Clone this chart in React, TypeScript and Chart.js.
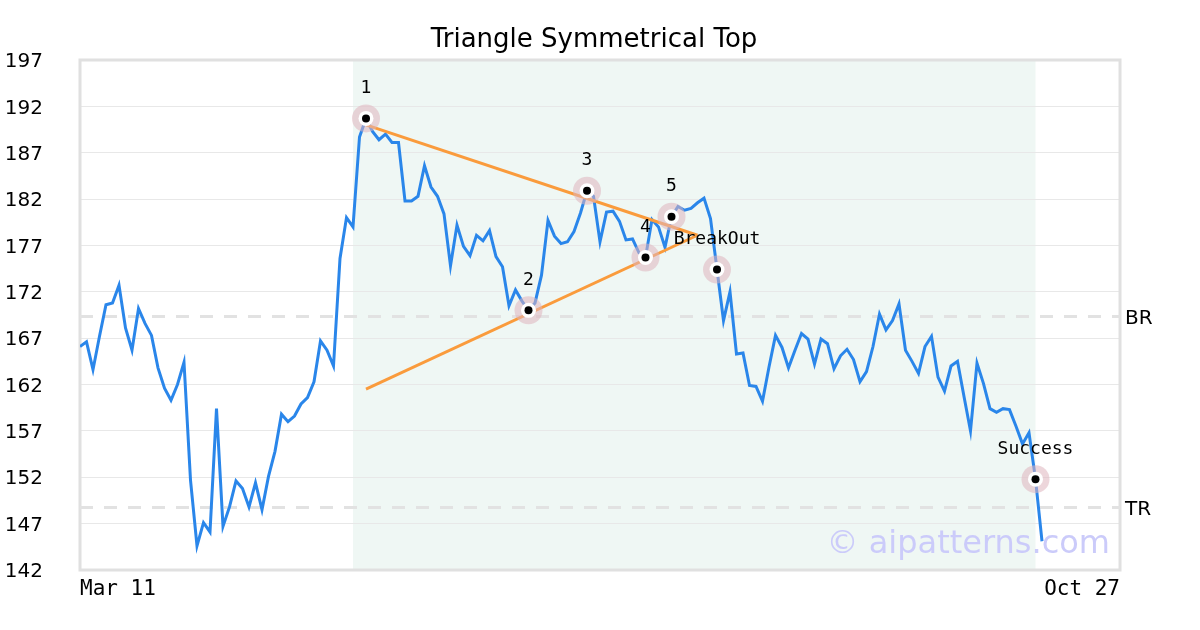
import React, { useEffect, useRef } from 'react';
import { Chart, registerables } from 'chart.js';

Chart.register(...registerables);

const chartTitle = 'Triangle Symmetrical Top';
const xTickLabels = ['Mar 11', 'Oct 27'];
const xRange = [0, 160];
const yTicks = [142, 147, 152, 157, 162, 167, 172, 177, 182, 187, 192, 197];

const price = [
  166.1, 166.6, 163.6, 167.2, 170.6, 170.8, 172.7, 168.1, 165.7, 170.2,
  168.6, 167.3, 163.8, 161.6, 160.3, 162.0, 164.4, 151.7, 144.6, 147.1,
  146.1, 159.4, 146.7, 148.8, 151.6, 150.8, 148.8, 151.4, 148.5, 152.1,
  154.8, 158.8, 158.0, 158.6, 159.9, 160.6, 162.3, 166.7, 165.7, 164.0,
  175.6, 180.0, 179.0, 188.7, 190.7, 189.3, 188.4, 189.0, 188.1, 188.1,
  181.8, 181.8, 182.3, 185.6, 183.3, 182.3, 180.4, 174.8, 179.2, 176.9,
  175.9, 178.1, 177.5, 178.6, 175.8, 174.7, 170.5, 172.2, 171.0, 170.0,
  170.8, 173.8, 179.7, 178.0, 177.2, 177.4, 178.5, 180.5, 182.9, 182.3,
  177.4, 180.6, 180.7, 179.6, 177.6, 177.7, 176.2, 175.7, 179.8, 179.0,
  176.8, 180.1, 181.2, 180.8, 181.0, 181.6, 182.1, 179.9, 174.4, 168.9,
  172.0, 165.3, 165.4, 161.9, 161.8, 160.2, 163.9, 167.3, 166.0, 163.8,
  165.7, 167.5, 166.9, 164.2, 166.9, 166.4, 163.7, 165.1, 165.8, 164.7,
  162.3, 163.4, 166.1, 169.6, 167.9, 168.9, 170.7, 165.7, 164.5, 163.2,
  166.1, 167.2, 162.8, 161.3, 164.0, 164.5, 160.7, 157.0, 164.3, 162.1,
  159.4, 159.0, 159.4, 159.3, 157.5, 155.6, 156.8, 151.8, 145.1,
];

const patternLabels = ['1', '2', '3', '4', '5', 'BreakOut', 'Success'];
const patternIndex = [44, 69, 78, 87, 91, 98, 147];

const upperX = [44, 95];
const upperY = [190.0, 178.1];
const lowerX = [44, 95];
const lowerY = [161.5, 178.1];

const refLevels = [169.34, 148.74];
const refLabels = ['BR', 'TR'];

const shadeRange = [42, 147];
const watermark = '\u00a9 aipatterns.com';

export default function App() {
  const canvasRef = useRef<HTMLCanvasElement>(null);

  useEffect(() => {
    const canvas = canvasRef.current;
    if (!canvas) return;

    const pricePts = price.map((y, x) => ({ x, y }));
    const markPts = patternIndex.map((i) => ({ x: i, y: price[i] }));
    const upperPts = upperX.map((x, i) => ({ x, y: upperY[i] }));
    const lowerPts = lowerX.map((x, i) => ({ x, y: lowerY[i] }));
    const refSets = refLevels.map((v, k) => ({
      type: 'line' as const,
      label: refLabels[k],
      data: xRange.map((x) => ({ x, y: v })),
      borderColor: '#e2e2e2',
      borderWidth: 3,
      borderDash: [13, 11],
      pointRadius: 0,
      order: 10,
    }));

    const decor = {
      id: 'decor',
      beforeDraw(chart: any) {
        const { ctx, chartArea: a, scales } = chart;
        const x0 = scales.x.getPixelForValue(shadeRange[0]);
        const x1 = scales.x.getPixelForValue(shadeRange[1]);
        ctx.save();
        ctx.fillStyle = '#eff7f4';
        ctx.fillRect(x0, a.top, x1 - x0, a.bottom - a.top);
        ctx.restore();
      },
      beforeDatasetsDraw(chart: any) {
        const { ctx, chartArea: a } = chart;
        ctx.save();
        ctx.strokeStyle = '#e0e0e0';
        ctx.lineWidth = 3;
        ctx.strokeRect(a.left, a.top, a.right - a.left, a.bottom - a.top);
        ctx.font = '32px "DejaVu Sans"';
        ctx.fillStyle = '#cbcbfa';
        ctx.textAlign = 'right';
        ctx.textBaseline = 'alphabetic';
        ctx.fillText(watermark, a.right - 10, a.bottom - 17);
        ctx.restore();
      },
      afterDatasetsDraw(chart: any) {
        const { ctx, scales } = chart;
        ctx.save();
        ctx.font = '18px "DejaVu Sans Mono"';
        ctx.fillStyle = '#000';
        ctx.textAlign = 'center';
        ctx.textBaseline = 'middle';
        patternIndex.forEach((i, k) => {
          const px = scales.x.getPixelForValue(i);
          const py = scales.y.getPixelForValue(price[i]);
          ctx.fillText(patternLabels[k], px, py - 30);
        });
        ctx.restore();
      },
    };

    const chart = new Chart(canvas, {
      type: 'line',
      data: {
        datasets: [
          {
            label: 'halo',
            type: 'scatter',
            data: markPts,
            pointRadius: 14,
            pointBackgroundColor: 'rgba(222,180,190,0.55)',
            pointBorderWidth: 0,
            showLine: false,
            order: 3,
          },
          {
            label: 'ring',
            type: 'scatter',
            data: markPts,
            pointRadius: 7.5,
            pointBackgroundColor: '#ffffff',
            pointBorderWidth: 0,
            showLine: false,
            order: 2,
          },
          {
            label: 'dot',
            type: 'scatter',
            data: markPts,
            pointRadius: 4,
            pointBackgroundColor: '#000000',
            pointBorderWidth: 0,
            showLine: false,
            order: 1,
          },
          {
            label: 'upper',
            data: upperPts,
            borderColor: '#fa9b3c',
            borderWidth: 3,
            pointRadius: 0,
            order: 4,
          },
          {
            label: 'lower',
            data: lowerPts,
            borderColor: '#fa9b3c',
            borderWidth: 3,
            pointRadius: 0,
            order: 4,
          },
          {
            label: 'price',
            data: pricePts,
            borderColor: '#2a86ea',
            borderWidth: 3,
            pointRadius: 0,
            tension: 0,
            order: 5,
          },
          ...refSets,
        ],
      } as any,
      options: {
        responsive: false,
        animation: false,
        events: [],
        layout: { padding: { left: 0, right: 12, top: 0, bottom: 0 } },
        plugins: {
          legend: { display: false },
          tooltip: { enabled: false },
          title: {
            display: true,
            text: chartTitle,
            color: '#000',
            font: { family: 'DejaVu Sans', size: 26, weight: 'normal' },
            padding: { top: 25, bottom: 3.8 },
          },
        },
        scales: {
          x: {
            type: 'linear',
            min: xRange[0],
            max: xRange[1],
            afterBuildTicks: (s: any) => {
              s.ticks = xRange.map((v) => ({ value: v }));
            },
            afterFit: (s: any) => {
              s.height = 60;
            },
            grid: { display: false, drawTicks: false },
            border: { display: false },
            ticks: {
              autoSkip: false,
              maxRotation: 0,
              align: 'inner',
              padding: 7,
              color: '#000',
              font: { family: 'DejaVu Sans Mono', size: 21 },
              callback: (_v: any, i: number) => xTickLabels[i],
            },
          },
          y: {
            type: 'linear',
            position: 'left',
            min: yTicks[0],
            max: yTicks[yTicks.length - 1],
            afterBuildTicks: (s: any) => {
              s.ticks = yTicks.map((v) => ({ value: v }));
            },
            afterFit: (s: any) => {
              s.width = 80;
            },
            grid: { color: '#e8e8e8', lineWidth: 1, drawTicks: false },
            border: { display: false },
            ticks: {
              padding: 37,
              labelOffset: 2,
              color: '#000',
              font: { family: 'DejaVu Sans', size: 20 },
              callback: (v: any) => String(v),
            },
          },
          yRef: {
            type: 'linear',
            position: 'right',
            min: yTicks[0],
            max: yTicks[yTicks.length - 1],
            afterBuildTicks: (s: any) => {
              s.ticks = refLevels.map((v) => ({ value: v }));
            },
            afterFit: (s: any) => {
              s.width = 68;
            },
            grid: { display: false, drawTicks: false },
            border: { display: false },
            ticks: {
              padding: 5,
              labelOffset: 2,
              color: '#000',
              font: { family: 'DejaVu Sans', size: 20 },
              callback: (_v: any, i: number) => refLabels[i],
            },
          },
        },
      } as any,
      plugins: [decor],
    });

    return () => chart.destroy();
  }, []);

  return (
    <div style={{ position: 'absolute', left: 0, top: 0, width: 1200, height: 630, background: '#fff' }}>
      <canvas ref={canvasRef} width={1200} height={630} style={{ display: 'block' }} />
    </div>
  );
}
